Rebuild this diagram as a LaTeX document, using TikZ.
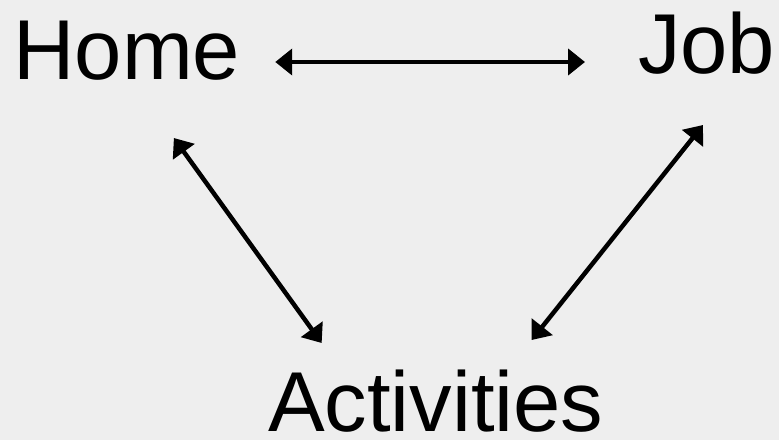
\documentclass[tikz,border=0pt]{standalone}
\usepackage{xcolor}
\usepackage{fontspec}
\setmainfont{Liberation Sans}
\usetikzlibrary{arrows.meta}

\definecolor{paper}{RGB}{238,238,238}

\begin{document}
\begin{tikzpicture}[x=1pt, y=1pt,
    place/.style={inner sep=0pt, outer sep=0pt, font=\fontsize{85}{100}\selectfont},
    link/.style={line width=4.5pt, {Triangle[length=17pt,width=26pt]}-{Triangle[length=17pt,width=26pt]}}]
    % Background
    \fill[paper] (0, 0) rectangle (779, 440);
    \useasboundingbox (0, 0) rectangle (779, 440);

    % Labels
    \node[place, anchor=base west] (home) at (13.5, 360) {Home};
    \node[place, anchor=base west] (job) at (638, 366) {Job};
    \node[place, anchor=base west] (activities) at (268, 9) {Activities};

    % Arrows
    \draw[link] ([shift={(35, 18)}]home.base east) -- ([shift={(-53, 12)}]job.base west);
    \draw[link] ([shift={(47, -58)}]home.base) -- ([shift={(-114, 88)}]activities.base);
    \draw[link] ([shift={(-3.5, -51)}]job.base) -- ([shift={(96, 91)}]activities.base);
\end{tikzpicture}
\end{document}
